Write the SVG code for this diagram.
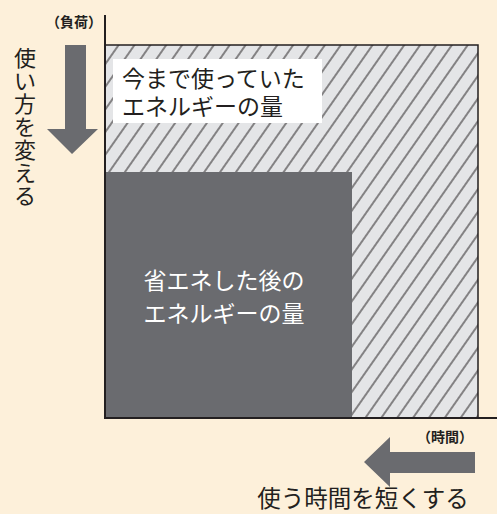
<svg xmlns="http://www.w3.org/2000/svg" width="497" height="514" viewBox="0 0 497 514">
<style>
  .t { font-family: "Noto Sans CJK JP", "Noto Sans", sans-serif; fill: #231f20; }
  .w { font-family: "Noto Sans CJK JP", "Noto Sans", sans-serif; fill: #ffffff; }
  .v { font-family: "Noto Sans CJK JP", "Noto Sans", sans-serif; fill: #231f20; font-size: 22px; text-anchor: middle; }
  .arrow { fill: #6a6b6f; }
  .axis { stroke: #231f20; stroke-width: 2; fill: none; }
</style>
<defs>
  <pattern id="hatch" width="13" height="13" patternUnits="userSpaceOnUse" patternTransform="rotate(35)">
    <rect width="13" height="13" fill="#e4e5e7"/>
    <line x1="6" y1="0" x2="6" y2="13" stroke="#231f20" stroke-width="1"/>
  </pattern>
</defs>
<rect width="497" height="514" fill="#fdf0da"/>
<g id="before">
  <rect x="105" y="45" width="373" height="373" fill="url(#hatch)" stroke="#231f20" stroke-width="1.5"/>
  <rect x="113" y="59" width="209" height="64" fill="#ffffff"/>
  <text class="t" x="122" y="87" font-size="23">今まで使っていた</text>
  <text class="t" x="122" y="115" font-size="23">エネルギーの量</text>
</g>
<g id="after">
  <rect x="105" y="172" width="247" height="246" fill="#6a6b6f"/>
  <text class="w" x="224" y="289" font-size="23" text-anchor="middle">省エネした後の</text>
  <text class="w" x="224" y="322" font-size="23" text-anchor="middle">エネルギーの量</text>
</g>
<g id="axes">
  <path class="axis" d="M105,15 V418 H497"/>
  <text class="t" x="74" y="27" font-size="14" font-weight="bold" text-anchor="middle">（負荷）</text>
  <text class="t" x="445" y="442" font-size="14" font-weight="bold" text-anchor="middle">（時間）</text>
</g>
<g id="connectors">
  <polygon class="arrow" points="65,45 86,45 86,129 98,129 72,154 47,129 65,129"/>
  <polygon class="arrow" points="475,452 475,473 390,473 390,487 364,462 390,437 390,452"/>
</g>
<g id="labels">
  <text class="v" x="25" y="66">使</text>
  <text class="v" x="25" y="89">い</text>
  <text class="v" x="25" y="112">方</text>
  <text class="v" x="25" y="135">を</text>
  <text class="v" x="25" y="158">変</text>
  <text class="v" x="25" y="181">え</text>
  <text class="v" x="25" y="204">る</text>
  <text class="t" x="363" y="507" font-size="23.5" text-anchor="middle">使う時間を短くする</text>
</g>
</svg>
